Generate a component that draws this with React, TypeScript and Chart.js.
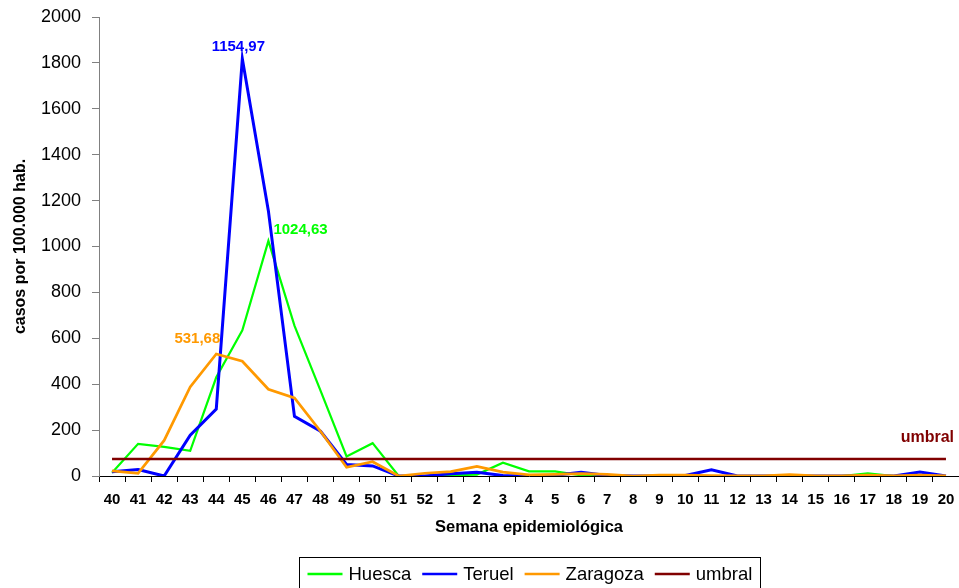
import { useEffect, useRef } from 'react';
import { Chart, registerables } from 'chart.js';

Chart.register(...registerables);

const FONT = '"Liberation Sans", Arial, Helvetica, sans-serif';

const weeks = ['40', '41', '42', '43', '44', '45', '46', '47', '48', '49', '50', '51', '52',
  '1', '2', '3', '4', '5', '6', '7', '8', '9', '10', '11', '12', '13', '14', '15', '16', '17', '18', '19', '20'];

const huesca = [14, 140, 127, 110, 430, 635, 1024.63, 655, 372, 85, 143, 0, 0,
  3, 6, 58, 20, 20, 3, 0, 0, 0, 0, 0, 0, 0, 0, 0, 0, 12, 0, 0, 0];

const teruel = [18, 28, 0, 178, 292, 1818, 1154.97, 260, 195, 50, 44, 0, 0,
  10, 16, 2, 1, 3, 16, 2, 0, 0, 2, 27, 0, 0, 0, 0, 0, 0, 0, 17, 0];

const zaragoza = [22, 12, 155, 388, 531.68, 500, 378, 340, 195, 38, 62, 0, 12,
  19, 42, 17, 5, 7, 10, 7, 0, 4, 4, 2, 1, 1, 6, 1, 1, 4, 1, 4, 1];

const umbral = [74, 74, 74, 74, 74, 74, 74, 74, 74, 74, 74, 74, 74,
  74, 74, 74, 74, 74, 74, 74, 74, 74, 74, 74, 74, 74, 74, 74, 74, 74, 74, 74, 74];

const yMin = 0;
const yMax = 2000;
const yStep = 200;

const seriesNames = ['Huesca', 'Teruel', 'Zaragoza', 'umbral'];
const seriesColors = ['#00FF00', '#0000FF', '#FF9900', '#800000'];

// annotations: dataset index, point index, text
const annotations = [
  { ds: 1, idx: 5, text: '1154,97', align: 'center', dx: -4, dy: -12, size: 15 },
  { ds: 0, idx: 6, text: '1024,63', align: 'left', dx: 5, dy: -11, size: 15 },
  { ds: 2, idx: 4, text: '531,68', align: 'right', dx: 4, dy: -15, size: 15 },
  { ds: 3, idx: 32, text: 'umbral', align: 'right', dx: 8, dy: -21, size: 16 },
];

const labelPlugin = {
  id: 'valueLabels',
  afterDatasetsDraw(chart: any) {
    const ctx = chart.ctx;
    ctx.save();
    annotations.forEach((a) => {
      const el = chart.getDatasetMeta(a.ds).data[a.idx];
      if (!el) return;
      ctx.font = `bold ${a.size}px ${FONT}`;
      ctx.fillStyle = seriesColors[a.ds];
      ctx.textAlign = a.align as CanvasTextAlign;
      ctx.textBaseline = 'middle';
      ctx.fillText(a.text, el.x + a.dx, el.y + a.dy);
    });
    ctx.restore();
  },
};

const legendPlugin = {
  id: 'boxLegend',
  afterDraw(chart: any) {
    const ctx = chart.ctx;
    ctx.save();
    ctx.font = `18.5px ${FONT}`;
    const lineLen = 35;
    const gapLT = 6;
    const gapItem = 11;
    const pad = 8;
    const widths = seriesNames.map((n) => ctx.measureText(n).width);
    let total = pad * 2 + gapItem * (seriesNames.length - 1);
    widths.forEach((w) => { total += lineLen + gapLT + w; });
    const cx = (chart.chartArea.left + chart.chartArea.right) / 2;
    const left = Math.round(cx - total / 2) + 0.5;
    const top = 557.5;
    ctx.strokeStyle = '#000000';
    ctx.lineWidth = 1;
    ctx.strokeRect(left, top, Math.round(total), 40);
    let x = left + pad;
    const y = 574;
    seriesNames.forEach((n, i) => {
      ctx.strokeStyle = seriesColors[i];
      ctx.lineWidth = 2.5;
      ctx.beginPath();
      ctx.moveTo(x, y);
      ctx.lineTo(x + lineLen, y);
      ctx.stroke();
      x += lineLen + gapLT;
      ctx.fillStyle = '#000000';
      ctx.textAlign = 'left';
      ctx.textBaseline = 'middle';
      ctx.fillText(n, x, y + 1);
      x += widths[i] + gapItem;
    });
    ctx.restore();
  },
};

export default function App() {
  const ref = useRef<HTMLCanvasElement | null>(null);

  useEffect(() => {
    if (!ref.current) return;
    const data = [huesca, teruel, zaragoza, umbral];
    const widths = [2.2, 3, 2.7, 2.5];
    const orders = [3, 2, 1, 0];
    const chart = new Chart(ref.current, {
      type: 'line',
      data: {
        labels: weeks,
        datasets: seriesNames.map((name, i) => ({
          label: name,
          data: data[i],
          borderColor: seriesColors[i],
          backgroundColor: seriesColors[i],
          borderWidth: widths[i],
          pointRadius: 0,
          tension: 0,
          fill: false,
          order: orders[i],
        })),
      },
      options: {
        animation: false,
        responsive: true,
        maintainAspectRatio: false,
        layout: { padding: { top: 17, right: 0, bottom: 51, left: 0 } },
        plugins: {
          legend: { display: false },
          tooltip: { enabled: false },
        },
        scales: {
          x: {
            offset: true,
            grid: {
              offset: true,
              drawOnChartArea: false,
              drawTicks: true,
              tickLength: 6,
              tickColor: '#000000',
            },
            border: { color: '#000000', width: 1 },
            ticks: {
              autoSkip: false,
              maxRotation: 0,
              padding: 9,
              color: '#000000',
              font: { family: FONT, size: 15, weight: 'bold' },
            },
            title: {
              display: true,
              text: 'Semana epidemiológica',
              color: '#000000',
              font: { family: FONT, size: 16.5, weight: 'bold' },
              padding: { top: 0, bottom: 0 },
            },
            afterFit: (s: any) => { s.height = 61; s.paddingLeft = 0; s.paddingRight = 0; },
          },
          y: {
            min: yMin,
            max: yMax,
            grid: {
              drawOnChartArea: false,
              drawTicks: true,
              tickLength: 7,
              tickColor: '#808080',
            },
            border: { color: '#808080', width: 1 },
            ticks: {
              stepSize: yStep,
              padding: 11,
              color: '#000000',
              font: { family: FONT, size: 18 },
              callback: (v: any) => String(v),
            },
            title: {
              display: true,
              text: 'casos por 100.000 hab.',
              color: '#000000',
              font: { family: FONT, size: 16, weight: 'bold' },
              padding: { top: 11, bottom: 0 },
            },
            afterFit: (s: any) => { s.width = 99; s.paddingTop = 0; s.paddingBottom = 0; },
          },
        },
      },
      plugins: [labelPlugin, legendPlugin],
    } as any);
    return () => chart.destroy();
  }, []);

  return (
    <div style={{ position: 'absolute', left: 0, top: 0, width: 959, height: 588, background: '#ffffff' }}>
      <canvas ref={ref} />
    </div>
  );
}
